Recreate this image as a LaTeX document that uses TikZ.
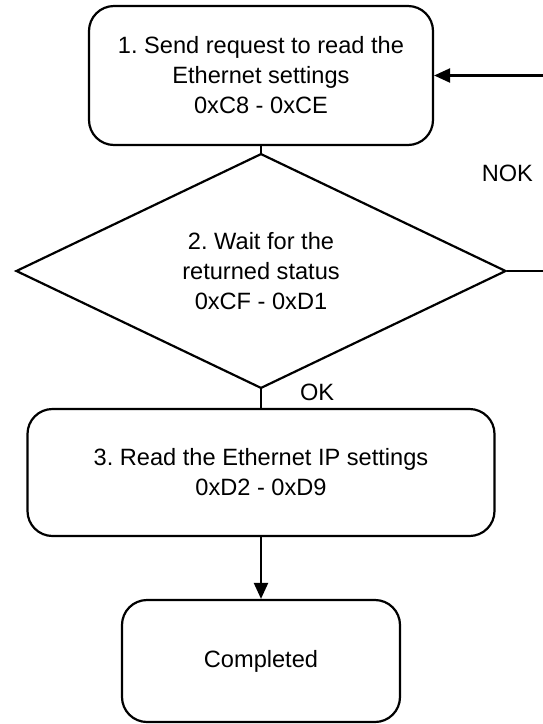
\documentclass[tikz,border=0pt]{standalone}
\usepackage{fontspec}
\setmainfont{Liberation Sans}
\frenchspacing
\usetikzlibrary{arrows.meta,shapes.geometric}
\begin{document}
\begin{tikzpicture}[x=1pt,y=-1pt,
 font=\fontsize{23.6}{30}\selectfont,
 >={Triangle[length=16pt,width=14pt]},
 line width=2.2pt,
 stepbox/.style={draw,rounded corners=25pt,align=center,inner sep=0pt},
 decision/.style={draw,diamond,align=center,inner sep=0pt,
   minimum width=490pt,minimum height=222pt}]
\path[use as bounding box] (0,0) rectangle (543,724);
\coordinate (loopx) at (550,0);
\node[stepbox,minimum width=344pt,minimum height=139pt] (send) at (261,75.5)
 {1. Send request to read the\\Ethernet settings\\0xC8 - 0xCE};
\node[decision] (wait) at (261,271)
 {2. Wait for the\\returned status\\0xCF - 0xD1};
\node[stepbox,minimum width=467pt,minimum height=127pt] (read) at (261,472.5)
 {3. Read the Ethernet IP settings\\0xD2 - 0xD9};
\node[stepbox,minimum width=278pt,minimum height=122pt] (done) at (261,661)
 {Completed};
\draw (send) -- (wait);
\draw (wait) -- (read) node[midway,right=38pt,yshift=6pt,inner sep=0pt] {OK};
\draw[->] (read) -- (done);
\draw[->] (wait.east) -- (wait.east -| loopx)
 -- node[left=16pt,inner sep=0pt] {NOK} (send.east -| loopx) -- (send.east);
\end{tikzpicture}
\end{document}
